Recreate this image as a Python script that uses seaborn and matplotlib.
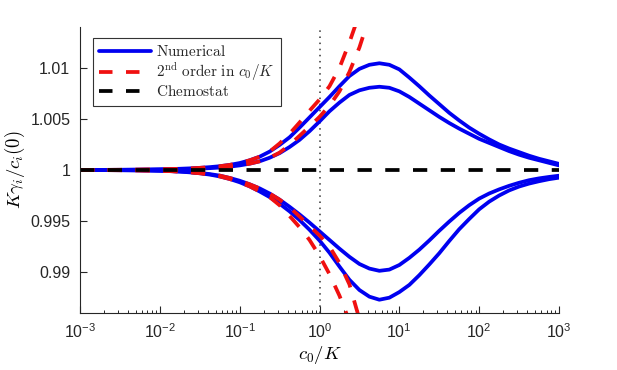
import matplotlib
matplotlib.use("Agg")
import matplotlib.pyplot as plt
import seaborn as sns
import pandas as pd
from matplotlib.lines import Line2D
from matplotlib.ticker import LogLocator, FixedLocator, FixedFormatter, NullFormatter

# ---------------- data ----------------
c0_over_K = [0.001, 0.001334, 0.001778, 0.002371, 0.003162, 0.004217, 0.005623, 0.007499,
             0.01, 0.01334, 0.01778, 0.02371, 0.03162, 0.04217, 0.05623, 0.07499,
             0.1, 0.1334, 0.1778, 0.2371, 0.3162, 0.4217, 0.5623, 0.7499,
             1.0, 1.334, 1.778, 2.371, 3.162, 4.217, 5.623, 7.499,
             10.0, 13.34, 17.78, 23.71, 31.62, 42.17, 56.23, 74.99,
             100.0, 133.4, 177.8, 237.1, 316.2, 421.7, 562.3, 749.9, 1000.0]

numerical_upper_outer = [1.00001, 1.00001, 1.00001, 1.000015, 1.00002, 1.00003, 1.00004, 1.00005,
                         1.00007, 1.00009, 1.00012, 1.00016, 1.00021, 1.00028, 1.00037, 1.0005,
                         1.00068, 1.00095, 1.0013, 1.0018, 1.00245, 1.0032, 1.00415, 1.00515,
                         1.00615, 1.00715, 1.0082, 1.0092, 1.0099, 1.0103, 1.01045, 1.0103,
                         1.00985, 1.00905, 1.0082, 1.0073, 1.00645, 1.0056, 1.00485, 1.00415,
                         1.00355, 1.003, 1.0025, 1.0021, 1.00175, 1.0014, 1.0011, 1.00085, 1.0006]
numerical_upper_inner = [1.000005, 1.000007, 1.00001, 1.000012, 1.000015, 1.00002, 1.000025, 1.000035,
                         1.000045, 1.00006, 1.00008, 1.0001, 1.00013, 1.00018, 1.00024, 1.00033,
                         1.00045, 1.00062, 1.00085, 1.0012, 1.00165, 1.00225, 1.00295, 1.0038,
                         1.00475, 1.00575, 1.0066, 1.00735, 1.0078, 1.00805, 1.00815, 1.00805,
                         1.0077, 1.00715, 1.0065, 1.00585, 1.0052, 1.0046, 1.00405, 1.00355,
                         1.00305, 1.00265, 1.00225, 1.00185, 1.0015, 1.0012, 1.00095, 1.0007, 1.00045]
numerical_lower_inner = [0.999995, 0.999993, 0.99999, 0.999987, 0.999982, 0.999975, 0.999965, 0.99995,
                         0.99993, 0.9999, 0.99986, 0.9998, 0.99972, 0.9996, 0.99945, 0.99922,
                         0.99895, 0.9986, 0.9982, 0.9977, 0.9971, 0.9964, 0.99565, 0.99485,
                         0.994, 0.99315, 0.9923, 0.9915, 0.9908, 0.99035, 0.99013, 0.99025,
                         0.9907, 0.9914, 0.9922, 0.9931, 0.99405, 0.99495, 0.9958, 0.99655,
                         0.9972, 0.9977, 0.9981, 0.99845, 0.99875, 0.999, 0.99918, 0.99932, 0.99944]
numerical_lower_outer = [0.999995, 0.999993, 0.99999, 0.999986, 0.99998, 0.999972, 0.99996, 0.999945,
                         0.99992, 0.99989, 0.99984, 0.99977, 0.99968, 0.99955, 0.99937, 0.99912,
                         0.9988, 0.9984, 0.9979, 0.99735, 0.9967, 0.99595, 0.9951, 0.99415,
                         0.9931, 0.9919, 0.99055, 0.98925, 0.98825, 0.9876, 0.9873, 0.9875,
                         0.98805, 0.98875, 0.9897, 0.99075, 0.99185, 0.99305, 0.9942, 0.9952,
                         0.99615, 0.9969, 0.9975, 0.998, 0.99838, 0.99867, 0.9989, 0.9991, 0.99925]

second_order_upper_outer = [1.00001, 1.00001, 1.00001, 1.000015, 1.00002, 1.00003, 1.00004, 1.00005,
                            1.00007, 1.00009, 1.00012, 1.00016, 1.00021, 1.00028, 1.00037, 1.0005,
                            1.00068, 1.00095, 1.0013, 1.0018, 1.0026, 1.00355, 1.00465, 1.0058,
                            1.0069, 1.0082, 1.0100, 1.0125, 1.0153]
second_order_upper_inner = [1.000005, 1.000007, 1.00001, 1.000012, 1.000015, 1.00002, 1.000025, 1.000035,
                            1.000045, 1.00006, 1.00008, 1.0001, 1.00013, 1.00018, 1.00024, 1.00033,
                            1.00045, 1.00062, 1.00085, 1.0012, 1.0017, 1.00245, 1.00335, 1.00425,
                            1.0052, 1.0063, 1.0077, 1.0096, 1.012, 1.015]
second_order_lower_outer = [0.999995, 0.999993, 0.99999, 0.999986, 0.99998, 0.999972, 0.99996, 0.999945,
                            0.99992, 0.99989, 0.99984, 0.99977, 0.99968, 0.99955, 0.99937, 0.99912,
                            0.9988, 0.9984, 0.9979, 0.99735, 0.99655, 0.9955, 0.9944, 0.99315,
                            0.9916, 0.9898, 0.9877, 0.9852]
second_order_lower_inner = [0.999995, 0.999993, 0.99999, 0.999987, 0.999982, 0.999975, 0.999965, 0.99995,
                            0.99993, 0.9999, 0.99986, 0.9998, 0.99972, 0.9996, 0.99945, 0.99922,
                            0.99895, 0.9986, 0.9982, 0.9977, 0.9971, 0.99635, 0.99545, 0.9945,
                            0.9936, 0.9925, 0.9909, 0.9888, 0.9854]

chemostat_x = [0.001, 1000.0]
chemostat_y = [1.0, 1.0]
marker_x = 1.0

x_ticks = [1e-3, 1e-2, 1e-1, 1e0, 1e1, 1e2, 1e3]
y_ticks = [0.99, 0.995, 1.0, 1.005, 1.01]
y_tick_labels = ["0.99", "0.995", "1", "1.005", "1.01"]

legend_labels = [r"$\mathrm{Numerical}$",
                 r"$2^{\mathrm{nd}}\ \mathrm{order\ in}\ c_0/K$",
                 r"$\mathrm{Chemostat}$"]

# ---------------- style ----------------
sns.set_style("white")
plt.rcParams["font.family"] = ["Liberation Sans", "DejaVu Sans"]
plt.rcParams["mathtext.fontset"] = "cm"
axis_col = "#262626"
BLUE = "#0000F0"
RED = "#F01010"

fig = plt.figure(figsize=(6.17, 3.70), dpi=100)
ax = fig.add_axes([80 / 617, 57 / 370, 479 / 617, 286 / 370])

LW = 2.7
dash = (0, (3.8, 3.6))

numerical = [numerical_upper_outer, numerical_upper_inner, numerical_lower_inner, numerical_lower_outer]
for ys in numerical:
    df = pd.DataFrame({"c0K": c0_over_K[:len(ys)], "val": ys})
    sns.lineplot(data=df, x="c0K", y="val", ax=ax, color=BLUE, lw=LW,
                 legend=False, sort=False, solid_capstyle="round", solid_joinstyle="round")

seconds = [second_order_upper_outer, second_order_upper_inner, second_order_lower_outer, second_order_lower_inner]
for ys in seconds:
    df = pd.DataFrame({"c0K": c0_over_K[:len(ys)], "val": ys})
    sns.lineplot(data=df, x="c0K", y="val", ax=ax, color=RED, lw=LW, linestyle=dash,
                 legend=False, sort=False)

sns.lineplot(x=chemostat_x, y=chemostat_y, ax=ax, color="black", lw=LW, linestyle=dash,
             legend=False, sort=False)

ax.axvline(marker_x, color="#333333", lw=1.1, linestyle=(0, (1, 3)), zorder=1)

ax.set_xscale("log")
ax.set_xlim(1e-3, 1e3)
ax.set_ylim(0.986, 1.014)

ax.xaxis.set_major_locator(FixedLocator(x_ticks))
ax.xaxis.set_minor_locator(LogLocator(base=10, subs=range(2, 10), numticks=20))
ax.xaxis.set_minor_formatter(NullFormatter())
ax.yaxis.set_major_locator(FixedLocator(y_ticks))
ax.yaxis.set_major_formatter(FixedFormatter(y_tick_labels))

for s in ["top", "right"]:
    ax.spines[s].set_visible(False)
for s in ["left", "bottom"]:
    ax.spines[s].set_color(axis_col)
    ax.spines[s].set_linewidth(0.8)

ax.tick_params(which="both", bottom=True, left=True, top=False, right=False)
ax.tick_params(which="major", direction="in", length=5, width=0.8, color=axis_col,
               labelcolor=axis_col, labelsize=11.5)
ax.tick_params(which="minor", direction="in", length=2.5, width=0.7, color=axis_col)
ax.tick_params(axis="y", pad=7)
ax.tick_params(axis="x", pad=7)

ax.set_xlabel(r"$c_0/K$", fontsize=13.5, color="black", labelpad=2)
ax.set_ylabel(r"$K\gamma_i/c_i(0)$", fontsize=13.5, color="black", labelpad=2)

handles = [Line2D([], [], color=BLUE, lw=LW),
           Line2D([], [], color=RED, lw=LW, linestyle=(0, (3.6, 3.6))),
           Line2D([], [], color="black", lw=LW, linestyle=(0, (3.6, 3.6)))]
leg = ax.legend(handles, legend_labels, loc="upper left", bbox_to_anchor=(0.027, 0.9615),
                borderaxespad=0, fontsize=11, frameon=True, fancybox=False, framealpha=1,
                edgecolor="#333333", handlelength=3.4, handletextpad=0.35, labelspacing=0.1,
                borderpad=0.4)
leg.get_frame().set_linewidth(0.8)

fig.savefig("out.png", dpi=100)
